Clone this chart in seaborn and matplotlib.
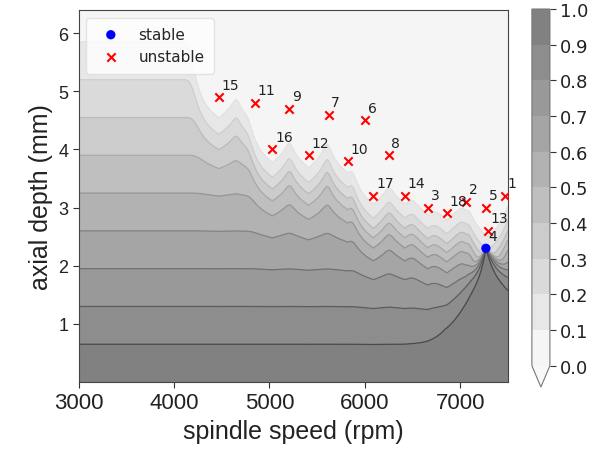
import numpy as np
import matplotlib
matplotlib.use("Agg")
import matplotlib.pyplot as plt
import seaborn as sns
from matplotlib.colors import ListedColormap

# test points
unstable_id = [15, 11, 9, 7, 6, 16, 12, 10, 8, 17, 14, 3, 18, 2, 5, 13, 1]
unstable_rpm = [4470, 4850, 5210, 5620, 6000, 5030, 5410, 5820, 6250,
                6090, 6420, 6660, 6860, 7060, 7270, 7290, 7470]
unstable_depth = [4.9, 4.8, 4.7, 4.6, 4.5, 4.0, 3.9, 3.8, 3.9,
                  3.2, 3.2, 3.0, 2.9, 3.1, 3.0, 2.6, 3.2]
stable_id = [4]
stable_rpm = [7270]
stable_depth = [2.3]

levels = [0.0, 0.1, 0.2, 0.3, 0.4, 0.5, 0.6, 0.7, 0.8, 0.9, 1.0]
cbar_ticks = [0.0, 0.1, 0.2, 0.3, 0.4, 0.5, 0.6, 0.7, 0.8, 0.9, 1.0]
x_ticks = [3000, 4000, 5000, 6000, 7000]
y_ticks = [1, 2, 3, 4, 5, 6]

# probability-of-stability surface built from the tests
X, Y = np.meshgrid(np.linspace(3000, 7500, 451), np.linspace(0, 6.4, 321))
prior = 1 - Y / 6.5

xu = np.array(unstable_rpm, dtype=float)
yu = np.array(unstable_depth)
u = np.abs(X[..., None] - xu) / 100.0
b = yu - 0.55 + 0.15 * u + 0.02 * u**2 + 0.012 * u**4
tau = 0.12
bmin = b.min(axis=-1, keepdims=True)
B = bmin[..., 0] - tau * np.log(np.sum(np.exp(-(b - bmin) / tau), axis=-1))
S = 1 / (1 + np.exp(-(B - Y) / 0.28))
pu = prior * S

dxs = X - stable_rpm[0]
k = np.where(dxs < 0, 200.0, 320.0)
cap = np.where(dxs < 0, 280.0, 380.0)
sig = np.clip(k * (stable_depth[0] - Y), 1e-6, cap)
Gs = np.where(Y <= stable_depth[0], np.exp(-0.5 * (dxs / sig) ** 2), 0.0)
P = np.clip(1 - (1 - pu) * (1 - Gs), 0, 1)

sns.set_style("ticks")
plt.rcParams["font.family"] = ["DejaVu Sans"]

fill_colors = ['#f5f5f5', '#e7e7e7', '#dadada', '#cccccc', '#bfbfbf',
               '#b2b2b2', '#a5a5a5', '#999999', '#8d8d8d', '#818181']
cmap = ListedColormap(fill_colors)
cmap.set_under('#f8f8f8')
line_colors = sns.blend_palette(['#e2e2e2', '#4a4a4a'], 9)

fig = plt.figure(figsize=(6.01, 4.56), dpi=100)
ax = fig.add_axes([0.131, 0.160, 0.714, 0.816])
cax = fig.add_axes([0.885, 0.149, 0.030, 0.829])

cf = ax.contourf(X, Y, P, levels=levels, cmap=cmap, extend='min')
ax.contour(X, Y, P, levels=levels[1:-1], colors=line_colors, linewidths=0.9)

sns.scatterplot(x=stable_rpm, y=stable_depth, color='blue', marker='o', s=45,
                edgecolor='none', label='stable', ax=ax, zorder=5)
sns.scatterplot(x=unstable_rpm, y=unstable_depth, color='red', marker='x', s=36,
                linewidth=1.5, label='unstable', ax=ax, zorder=5)

for i, xv, yv in zip(unstable_id + stable_id, unstable_rpm + stable_rpm,
                     unstable_depth + stable_depth):
    ax.annotate(str(i), (xv, yv), xytext=(2, 4), textcoords='offset points',
                fontsize=10, color='#222222', ha='left', va='bottom', zorder=6)

ax.set_xlim(3000, 7500)
ax.set_ylim(0, 6.4)
ax.set_xticks(x_ticks)
ax.set_yticks(y_ticks)
for lab in ax.get_xticklabels():
    lab.set_fontfamily('Liberation Sans')
    lab.set_fontsize(16)
for lab in ax.get_yticklabels():
    lab.set_fontfamily('Liberation Sans')
    lab.set_fontsize(13)
ax.tick_params(colors='#333333', labelcolor='#222222', length=4)
ax.set_xlabel('spindle speed (rpm)', fontsize=18, family='Liberation Sans', color='#222222')
ax.set_ylabel('axial depth (mm)', fontsize=18, family='Liberation Sans', color='#222222')
for sp in ax.spines.values():
    sp.set_visible(True)
    sp.set_color('#444444')

leg = ax.legend(loc='upper left', fontsize=11, frameon=True, handletextpad=0.8,
                borderpad=0.6)
leg.get_frame().set_edgecolor('#dddddd')

cb = fig.colorbar(cf, cax=cax, ticks=cbar_ticks, extendfrac=0.06)
cb.ax.tick_params(labelsize=13, colors='#333333', labelcolor='#222222', length=4)
cb.outline.set_edgecolor('#777777')

fig.savefig('out.png', dpi=100)
